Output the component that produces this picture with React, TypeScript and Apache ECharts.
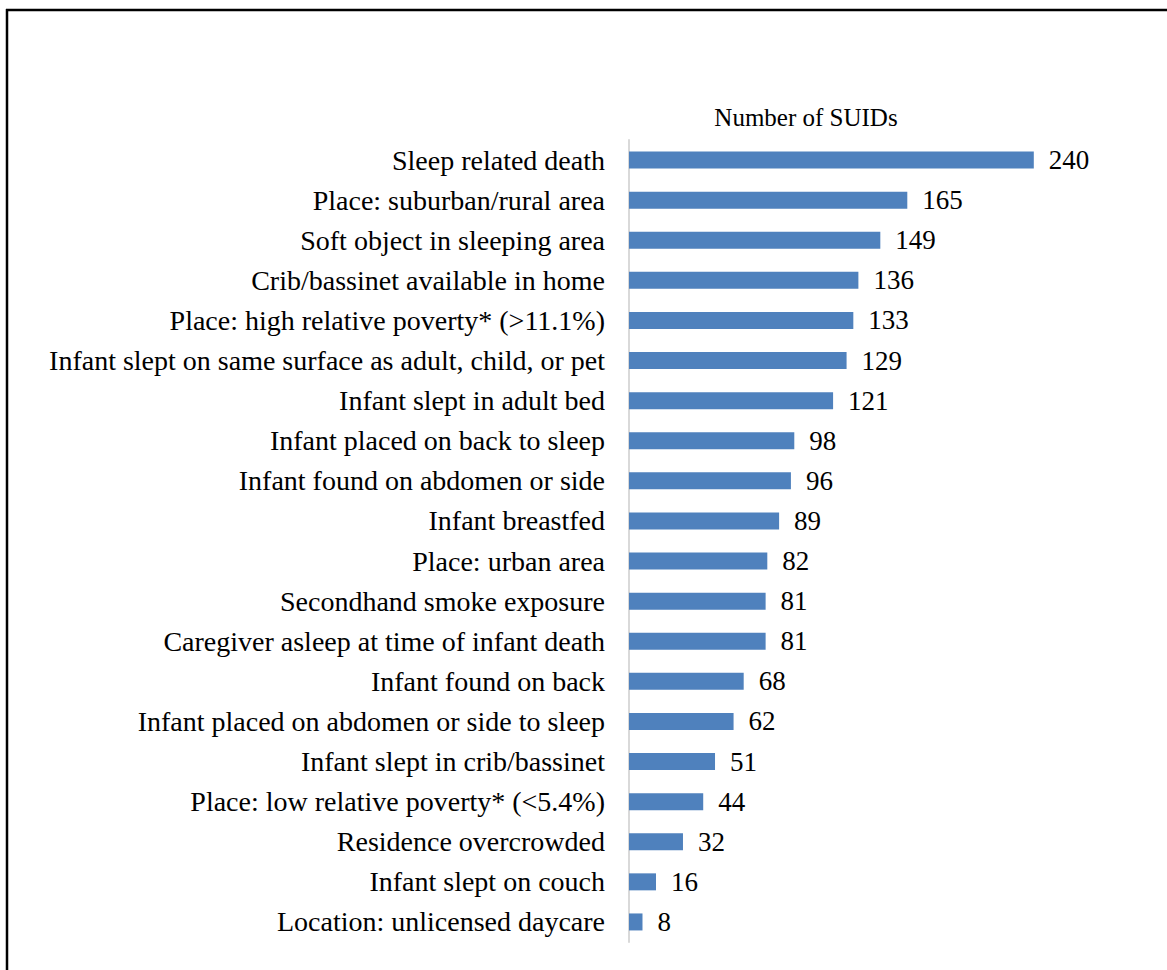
import React, { useEffect, useRef } from "react";
import * as echarts from "echarts";

const categories = [
  "Sleep related death",
  "Place: suburban/rural area",
  "Soft object in sleeping area",
  "Crib/bassinet available in home",
  "Place: high relative poverty* (>11.1%)",
  "Infant slept on same surface as adult, child, or pet",
  "Infant slept in adult bed",
  "Infant placed on back to sleep",
  "Infant found on abdomen or side",
  "Infant breastfed",
  "Place: urban area",
  "Secondhand smoke exposure",
  "Caregiver asleep at time of infant death",
  "Infant found on back",
  "Infant placed on abdomen or side to sleep",
  "Infant slept in crib/bassinet",
  "Place: low relative poverty* (<5.4%)",
  "Residence overcrowded",
  "Infant slept on couch",
  "Location: unlicensed daycare",
];
const values = [240, 165, 149, 136, 133, 129, 121, 98, 96, 89, 82, 81, 81, 68, 62, 51, 44, 32, 16, 8];
const titleText = "Number of SUIDs";

const FONT = "serif";

export default function App() {
  const ref = useRef<HTMLDivElement>(null);
  useEffect(() => {
    if (!ref.current) return;
    const chart = echarts.init(ref.current, null, { renderer: "svg" });
    chart.setOption({
      animation: false,
      backgroundColor: "#ffffff",
      textStyle: { fontFamily: FONT },
      title: {
        text: titleText,
        left: 801,
        top: 100,
        textAlign: "center",
        textStyle: { fontFamily: FONT, fontSize: 25, fontWeight: "normal", color: "#000" },
      },
      graphic: [
        { type: "line", shape: { x1: 6, y1: 10, x2: 1167, y2: 10 }, style: { stroke: "#000", lineWidth: 2.5 } },
        { type: "line", shape: { x1: 7, y1: 9, x2: 7, y2: 970 }, style: { stroke: "#000", lineWidth: 2.5 } },
      ],
      grid: { left: 629, top: 140, width: 506, height: 802, containLabel: false },
      xAxis: { type: "value", min: 0, max: 300, show: false },
      yAxis: {
        type: "category",
        data: categories,
        inverse: true,
        axisLine: { show: true, lineStyle: { color: "#d9d9d9", width: 2 } },
        axisTick: { show: false },
        axisLabel: { margin: 24, fontFamily: FONT, fontWeight: "normal", fontStyle: "normal", fontSize: 28, color: "#000" },
      },
      series: [
        {
          type: "bar",
          data: values,
          barWidth: 17,
          itemStyle: { color: "#4F81BD" },
          label: {
            show: true,
            position: "right",
            distance: 15,
            fontFamily: FONT,
            fontWeight: "normal",
            fontStyle: "normal",
            fontSize: 27,
            color: "#000",
          },
        },
      ],
    });
    return () => chart.dispose();
  }, []);
  return <div ref={ref} style={{ position: "absolute", left: 0, top: 0, width: 1167, height: 970 }} />;
}
